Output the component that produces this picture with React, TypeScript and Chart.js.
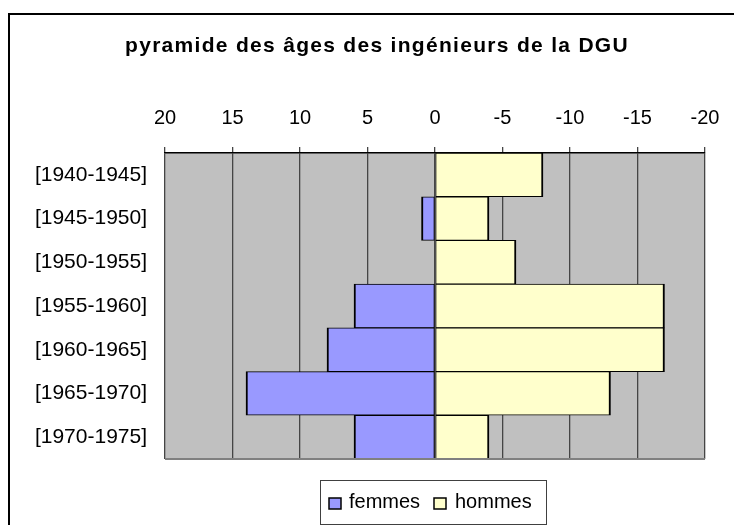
import React, { useEffect, useRef } from "react";
import { Chart, registerables } from "chart.js";

Chart.register(...registerables);

const categories = [
  "[1940-1945]",
  "[1945-1950]",
  "[1950-1955]",
  "[1955-1960]",
  "[1960-1965]",
  "[1965-1970]",
  "[1970-1975]",
];
const femmes = [0, 1, 0, 6, 8, 14, 6];
const hommes = [-8, -4, -6, -17, -17, -13, -4];
const seriesNames = ["femmes", "hommes"];
const seriesColors = ["#9999FF", "#FFFFCC"];
const titleText = "pyramide des âges des ingénieurs de la DGU";
const xMin = -20;
const xMax = 20;
const xStep = 5;

const FONT = '"Liberation Sans", Arial, sans-serif';

const decor = {
  id: "decor",
  beforeDraw(chart: any) {
    const { ctx, chartArea: a } = chart;
    ctx.save();
    ctx.fillStyle = "#C0C0C0";
    ctx.fillRect(a.left, a.top, a.right - a.left, a.bottom - a.top);
    ctx.restore();
  },
  afterDraw(chart: any) {
    const { ctx, chartArea: a } = chart;
    ctx.save();
    // plot bottom border
    ctx.strokeStyle = "#808080";
    ctx.lineWidth = 2;
    ctx.beginPath();
    ctx.moveTo(a.left, a.bottom);
    ctx.lineTo(a.right, a.bottom);
    ctx.stroke();

    // outer border
    ctx.strokeStyle = "#000";
    ctx.lineWidth = 2;
    ctx.strokeRect(9, 14, 900, 700);

    // title
    ctx.fillStyle = "#000";
    ctx.font = "bold 21px " + FONT;
    (ctx as any).letterSpacing = "1.3px";
    ctx.textAlign = "center";
    ctx.textBaseline = "alphabetic";
    ctx.fillText(titleText, 377, 52);
    (ctx as any).letterSpacing = "0px";

    // legend
    ctx.strokeStyle = "#404040";
    ctx.lineWidth = 1;
    ctx.strokeRect(320.5, 480.5, 226, 44);
    const swX = [329, 434];
    const txX = [349, 455];
    ctx.font = "20px " + FONT;
    ctx.textAlign = "left";
    for (let i = 0; i < seriesNames.length; i++) {
      ctx.fillStyle = seriesColors[i];
      ctx.fillRect(swX[i], 498, 12, 11);
      ctx.strokeStyle = "#000";
      ctx.lineWidth = 1.5;
      ctx.strokeRect(swX[i], 498, 12, 11);
      ctx.fillStyle = "#000";
      ctx.fillText(seriesNames[i], txX[i], 508);
    }
    ctx.restore();
  },
};

export default function App() {
  const ref = useRef<HTMLCanvasElement>(null);
  useEffect(() => {
    if (!ref.current) return;
    const chart = new Chart(ref.current, {
      type: "bar",
      data: {
        labels: categories,
        datasets: [
          {
            label: seriesNames[0],
            data: femmes,
            backgroundColor: seriesColors[0],
            borderColor: "#000",
            borderWidth: { top: 1, bottom: 1, left: 2, right: 1 } as any,
            borderSkipped: false,
            barPercentage: 1,
            categoryPercentage: 1,
          },
          {
            label: seriesNames[1],
            data: hommes,
            backgroundColor: seriesColors[1],
            borderColor: "#000",
            borderWidth: { top: 1, bottom: 1, left: 1, right: 2 } as any,
            borderSkipped: false,
            barPercentage: 1,
            categoryPercentage: 1,
          },
        ],
      },
      options: {
        indexAxis: "y",
        animation: false,
        responsive: false,
        devicePixelRatio: 1,
        layout: { padding: { top: 93, bottom: 66, left: 0, right: 29 } },
        plugins: {
          legend: { display: false },
          title: { display: false },
          tooltip: { enabled: false },
        },
        scales: {
          x: {
            position: "top",
            reverse: true,
            stacked: true,
            min: xMin,
            max: xMax,
            ticks: {
              stepSize: xStep,
              color: "#000",
              font: { family: FONT, size: 20 },
              padding: 17,
              maxRotation: 0,
              callback: (v: any) => String(v),
            },
            grid: {
              color: "#454545",
              lineWidth: 1.3,
              tickLength: 6,
              drawTicks: true,
            },
            border: { display: true, color: "#000", width: 1.5 },
            afterFit: (s: any) => {
              s.height = 60;
              s.paddingLeft = 0;
              s.paddingRight = 0;
            },
          },
          y: {
            stacked: true,
            ticks: {
              color: "#000",
              font: { family: FONT, size: 21 },
              padding: 18,
            },
            grid: { display: false, drawTicks: false },
            border: { display: false },
            afterFit: (s: any) => {
              s.width = 165;
            },
          },
        },
      },
      plugins: [decor],
    } as any);
    return () => chart.destroy();
  }, []);
  return (
    <div style={{ position: "absolute", left: 0, top: 0, width: 734, height: 525 }}>
      <canvas ref={ref} width={734} height={525} style={{ display: "block" }} />
    </div>
  );
}
